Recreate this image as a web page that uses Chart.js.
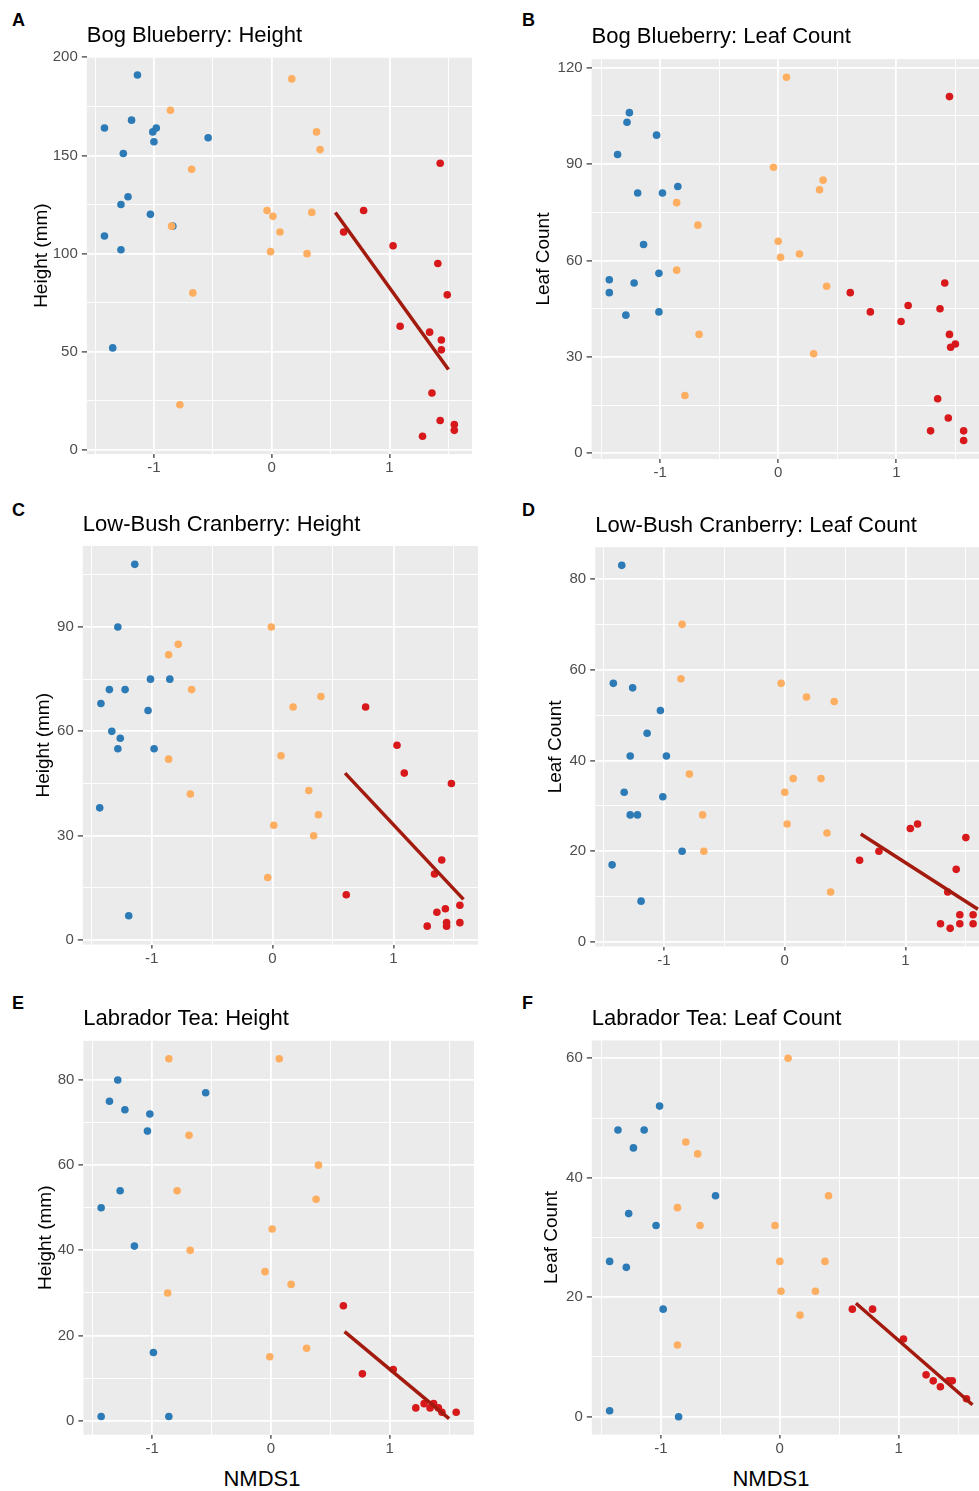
<!DOCTYPE html>
<html>
<head>
<meta charset="utf-8">
<title>Shrub height and leaf count along NMDS1</title>
<script src="https://cdn.jsdelivr.net/npm/chart.js@4.4.1/dist/chart.umd.min.js"></script>
<style>
  html, body { margin: 0; padding: 0; background: #fff; }
  body { width: 979px; height: 1491px; position: relative; overflow: hidden;
         font-family: 'Liberation Sans', Arial, Helvetica, sans-serif; }
  .panel { position: absolute; }
  .tag { position: absolute; font-weight: bold; font-size: 18px; line-height: 18px; color: #000; }
  .xlab { position: absolute; width: 200px; text-align: center; font-size: 22px; line-height: 22px; color: #000; }
</style>
</head>
<body>
<div class="tag" style="left:12px; top:11px">A</div>
<div class="tag" style="left:522px; top:11px">B</div>
<div class="tag" style="left:12px; top:501px">C</div>
<div class="tag" style="left:522px; top:501px">D</div>
<div class="tag" style="left:12px; top:994px">E</div>
<div class="tag" style="left:522px; top:994px">F</div>
<div class="xlab" style="left:162px; top:1468px">NMDS1</div>
<div class="xlab" style="left:671px; top:1468px">NMDS1</div>

<script>
// [NMDS1, value] pairs, one array per colour group
const bogHeightBlue = [[-1.14, 191], [-1.42, 164], [-1.19, 168], [-1.01, 162], [-0.98, 164], [-1.00, 157], [-0.54, 159], [-1.26, 151], [-1.22, 129], [-1.28, 125], [-1.03, 120], [-1.42, 109], [-1.28, 102], [-1.35, 52], [-0.84, 114]];
const bogHeightOrange = [[-0.86, 173], [0.17, 189], [0.38, 162], [0.41, 153], [-0.68, 143], [-0.04, 122], [0.01, 119], [0.34, 121], [0.07, 111], [-0.01, 101], [0.30, 100], [-0.85, 114], [-0.67, 80], [-0.78, 23]];
const bogHeightRed = [[0.78, 122], [0.61, 111], [1.03, 104], [1.43, 146], [1.41, 95], [1.49, 79], [1.09, 63], [1.34, 60], [1.44, 56], [1.44, 51], [1.36, 29], [1.43, 15], [1.55, 13], [1.55, 10], [1.28, 7]];
const bogHeightFit = [[0.54, 121], [1.50, 41]];

const bogLeafBlue = [[-1.26, 106], [-1.28, 103], [-1.03, 99], [-1.36, 93], [-1.19, 81], [-0.98, 81], [-0.85, 83], [-1.14, 65], [-1.43, 54], [-1.43, 50], [-1.22, 53], [-1.01, 56], [-1.29, 43], [-1.01, 44]];
const bogLeafOrange = [[0.07, 117], [-0.04, 89], [0.38, 85], [0.35, 82], [-0.86, 78], [-0.68, 71], [0.00, 66], [0.02, 61], [0.18, 62], [-0.86, 57], [0.41, 52], [-0.67, 37], [0.30, 31], [-0.79, 18]];
const bogLeafRed = [[1.45, 111], [0.61, 50], [0.78, 44], [1.10, 46], [1.04, 41], [1.41, 53], [1.37, 45], [1.45, 37], [1.46, 33], [1.50, 34], [1.35, 17], [1.44, 11], [1.29, 7], [1.57, 7], [1.57, 4]];

const cranHeightBlue = [[-1.14, 108], [-1.28, 90], [-1.01, 75], [-0.85, 75], [-1.35, 72], [-1.22, 72], [-1.42, 68], [-1.03, 66], [-1.33, 60], [-1.26, 58], [-1.28, 55], [-0.98, 55], [-1.43, 38], [-1.19, 7]];
const cranHeightOrange = [[-0.01, 90], [-0.78, 85], [-0.86, 82], [-0.67, 72], [0.40, 70], [0.17, 67], [-0.86, 52], [0.07, 53], [-0.68, 42], [0.30, 43], [0.38, 36], [0.01, 33], [0.34, 30], [-0.04, 18]];
const cranHeightRed = [[0.77, 67], [1.03, 56], [1.09, 48], [1.48, 45], [1.40, 23], [1.34, 19], [0.61, 13], [1.55, 10], [1.43, 9], [1.36, 8], [1.28, 4], [1.44, 5], [1.44, 4], [1.55, 5]];
const cranHeightFit = [[0.60, 48], [1.58, 11.7]];

const cranLeafBlue = [[-1.35, 83], [-1.42, 57], [-1.26, 56], [-1.03, 51], [-1.14, 46], [-1.28, 41], [-0.98, 41], [-1.33, 33], [-1.01, 32], [-1.28, 28], [-1.22, 28], [-0.85, 20], [-1.43, 17], [-1.19, 9]];
const cranLeafOrange = [[-0.85, 70], [-0.86, 58], [-0.03, 57], [0.18, 54], [0.41, 53], [-0.79, 37], [0.07, 36], [0.30, 36], [0.00, 33], [-0.68, 28], [0.02, 26], [0.35, 24], [-0.67, 20], [0.38, 11]];
const cranLeafRed = [[0.62, 18], [0.78, 20], [1.04, 25], [1.10, 26], [1.50, 23], [1.42, 16], [1.35, 11], [1.29, 4], [1.37, 3], [1.45, 6], [1.45, 4], [1.56, 6], [1.56, 4]];
const cranLeafFit = [[0.63, 23.8], [1.60, 7.2]];

const teaHeightBlue = [[-1.29, 80], [-1.36, 75], [-1.23, 73], [-1.02, 72], [-1.04, 68], [-0.55, 77], [-1.27, 54], [-1.43, 50], [-1.15, 41], [-0.99, 16], [-1.43, 1], [-0.86, 1]];
const teaHeightOrange = [[-0.86, 85], [0.07, 85], [-0.69, 67], [0.40, 60], [-0.79, 54], [0.38, 52], [0.01, 45], [-0.68, 40], [-0.05, 35], [0.17, 32], [-0.87, 30], [0.30, 17], [-0.01, 15]];
const teaHeightRed = [[0.61, 27], [0.77, 11], [1.03, 12], [1.22, 3], [1.29, 4], [1.34, 3], [1.37, 4], [1.41, 3], [1.44, 2], [1.56, 2]];
const teaHeightFit = [[0.62, 20.9], [1.50, 0.5]];

const teaLeafBlue = [[-1.01, 52], [-1.36, 48], [-1.14, 48], [-1.23, 45], [-0.54, 37], [-1.27, 34], [-1.04, 32], [-1.43, 26], [-1.29, 25], [-0.98, 18], [-1.43, 1], [-0.85, 0]];
const teaLeafOrange = [[0.07, 60], [-0.79, 46], [-0.69, 44], [0.41, 37], [-0.86, 35], [-0.67, 32], [-0.04, 32], [0.00, 26], [0.38, 26], [0.01, 21], [0.30, 21], [0.17, 17], [-0.86, 12]];
const teaLeafRed = [[0.61, 18], [0.78, 18], [1.04, 13], [1.23, 7], [1.29, 6], [1.35, 5], [1.42, 6], [1.45, 6], [1.57, 3]];
const teaLeafFit = [[0.64, 19], [1.62, 2]];

// tick positions (major ones get labels, the rest are minor grid lines)
const xTicks = [-1.5, -1, -0.5, 0, 0.5, 1, 1.5];
const bogHeightTicks = [0, 25, 50, 75, 100, 125, 150, 175, 200];
const bogLeafTicks = [0, 15, 30, 45, 60, 75, 90, 105, 120];
const cranHeightTicks = [0, 15, 30, 45, 60, 75, 90, 105];
const cranLeafTicks = [0, 10, 20, 30, 40, 50, 60, 70, 80];
const teaHeightTicks = [0, 10, 20, 30, 40, 50, 60, 70, 80];
const teaLeafTicks = [0, 10, 20, 30, 40, 50, 60];

(function () {
  'use strict';

  const FONT = "'Liberation Sans', Arial, Helvetica, sans-serif";
  Chart.defaults.font.family = FONT;

  const BLUE = '#2c7bb6';
  const ORANGE = '#fdae61';
  const RED = '#d7191c';
  const FIT = '#a31a0e';

  // area = [left, top, right, bottom] of the grey panel on the page
  const panels = [
    { title: 'Bog Blueberry: Height', yTitle: 'Height (mm)', blue: bogHeightBlue, orange: bogHeightOrange, red: bogHeightRed, fit: bogHeightFit,
      x: [-1.57, 1.70], y: [-2.1, 200.1], yTicks: bogHeightTicks, yMajor: 50,
      area: [86.8, 57.1, 472.2, 454.1], titleMid: 35.7, yTitleMid: 41.5 },
    { title: 'Bog Blueberry: Leaf Count', yTitle: 'Leaf Count', blue: bogLeafBlue, orange: bogLeafOrange, red: bogLeafRed, fit: null,
      x: [-1.58, 1.70], y: [-1.76, 122.66], yTicks: bogLeafTicks, yMajor: 30,
      area: [591.6, 59.1, 978.6, 459.0], titleMid: 37.4, yTitleMid: 543.4 },
    { title: 'Low-Bush Cranberry: Height', yTitle: 'Height (mm)', blue: cranHeightBlue, orange: cranHeightOrange, red: cranHeightRed, fit: cranHeightFit,
      x: [-1.57, 1.70], y: [-1.31, 113.31], yTicks: cranHeightTicks, yMajor: 30,
      area: [82.8, 545.9, 477.9, 944.6], titleMid: 525.1, yTitleMid: 43.4 },
    { title: 'Low-Bush Cranberry: Leaf Count', yTitle: 'Leaf Count', blue: cranLeafBlue, orange: cranLeafOrange, red: cranLeafRed, fit: cranLeafFit,
      x: [-1.57, 1.70], y: [-1, 87], yTicks: cranLeafTicks, yMajor: 20,
      area: [595.2, 547.2, 989.8, 946.5], titleMid: 525.7, yTitleMid: 555 },
    { title: 'Labrador Tea: Height', yTitle: 'Height (mm)', blue: teaHeightBlue, orange: teaHeightOrange, red: teaHeightRed, fit: teaHeightFit,
      x: [-1.58, 1.71], y: [-3.3, 89.2], yTicks: teaHeightTicks, yMajor: 20,
      area: [83.35, 1040.8, 474.4, 1434.75], titleMid: 1019.1, yTitleMid: 45 },
    { title: 'Labrador Tea: Leaf Count', yTitle: 'Leaf Count', blue: teaLeafBlue, orange: teaLeafOrange, red: teaLeafRed, fit: teaLeafFit,
      x: [-1.58, 1.70], y: [-3, 63], yTicks: teaLeafTicks, yMajor: 20,
      area: [591.8, 1040.4, 981.5, 1434.6], titleMid: 1019.1, yTitleMid: 551.7 }
  ];

  const panelBackground = {
    id: 'panelBackground',
    beforeDraw(chart) {
      const a = chart.chartArea;
      const ctx = chart.ctx;
      ctx.save();
      ctx.fillStyle = '#ebebeb';
      ctx.fillRect(a.left, a.top, a.right - a.left, a.bottom - a.top);
      ctx.restore();
    }
  };

  function isMajor(v, step) {
    const r = v / step;
    return Math.abs(r - Math.round(r)) < 1e-6;
  }

  function toPoints(list) {
    return list.map(function (p) {
      return { x: p[0], y: p[1] };
    });
  }

  function pointSet(data, color, order) {
    return {
      data: toPoints(data),
      backgroundColor: color,
      borderWidth: 0,
      pointRadius: 3.8,
      pointHoverRadius: 3.8,
      order: order
    };
  }

  function axis(range, ticks, major, fitSize, vertical, title) {
    return {
      type: 'linear',
      min: range[0],
      max: range[1],
      afterBuildTicks: function (scale) {
        scale.ticks = ticks
          .filter(function (v) { return v >= range[0] && v <= range[1]; })
          .map(function (v) { return { value: v }; });
      },
      afterFit: function (scale) {
        if (vertical) {
          scale.width = fitSize;
        } else {
          scale.height = fitSize;
        }
      },
      ticks: {
        autoSkip: false,
        maxRotation: 0,
        padding: vertical ? 4 : 1,
        color: '#4d4d4d',
        font: { size: 15 },
        callback: function (v) {
          return isMajor(v, major) ? String(v) : '';
        }
      },
      grid: {
        color: '#ffffff',
        lineWidth: function (ctx) {
          return ctx.tick && isMajor(ctx.tick.value, major) ? 1.8 : 0.9;
        },
        tickLength: vertical ? 5 : 4,
        tickWidth: 1.2,
        tickColor: function (ctx) {
          return ctx.tick && isMajor(ctx.tick.value, major) ? '#333333' : 'rgba(0,0,0,0)';
        }
      },
      border: { display: false },
      title: title ? { display: true, text: title, color: '#000', font: { size: 19 }, padding: 0 } : { display: false }
    };
  }

  function buildPanel(p) {
    const left = Math.round(p.yTitleMid - 11.4);
    const top = Math.round(p.titleMid - 13.2);
    const width = Math.round(p.area[2] - left);
    const height = Math.round(p.area[3] + 30 - top);
    const yAxisWidth = p.area[0] - left;
    const titleGap = p.area[1] - top - 26.4;
    const xAxisHeight = top + height - p.area[3];

    const box = document.createElement('div');
    box.className = 'panel';
    box.style.left = left + 'px';
    box.style.top = top + 'px';
    box.style.width = width + 'px';
    box.style.height = height + 'px';
    const canvas = document.createElement('canvas');
    canvas.width = width;
    canvas.height = height;
    box.appendChild(canvas);
    document.body.appendChild(box);

    const datasets = [
      pointSet(p.blue, BLUE, 3),
      pointSet(p.orange, ORANGE, 2),
      pointSet(p.red, RED, 1)
    ];
    if (p.fit) {
      datasets.push({
        data: toPoints(p.fit),
        showLine: true,
        borderColor: FIT,
        borderWidth: 3.5,
        pointRadius: 0,
        pointHoverRadius: 0,
        order: 0
      });
    }

    new Chart(canvas, {
      type: 'scatter',
      data: { datasets: datasets },
      options: {
        responsive: false,
        animation: false,
        events: [],
        layout: { padding: 0, autoPadding: false },
        plugins: {
          legend: { display: false },
          tooltip: { enabled: false },
          title: {
            display: true,
            text: p.title,
            align: 'start',
            fullSize: false,
            color: '#000',
            font: { size: 22, weight: 'normal' },
            padding: { top: 0, bottom: titleGap }
          }
        },
        scales: {
          x: axis(p.x, xTicks, 1, xAxisHeight, false, null),
          y: axis(p.y, p.yTicks, p.yMajor, yAxisWidth, true, p.yTitle)
        }
      },
      plugins: [panelBackground]
    });
  }

  panels.forEach(buildPanel);
})();
</script>
</body>
</html>
